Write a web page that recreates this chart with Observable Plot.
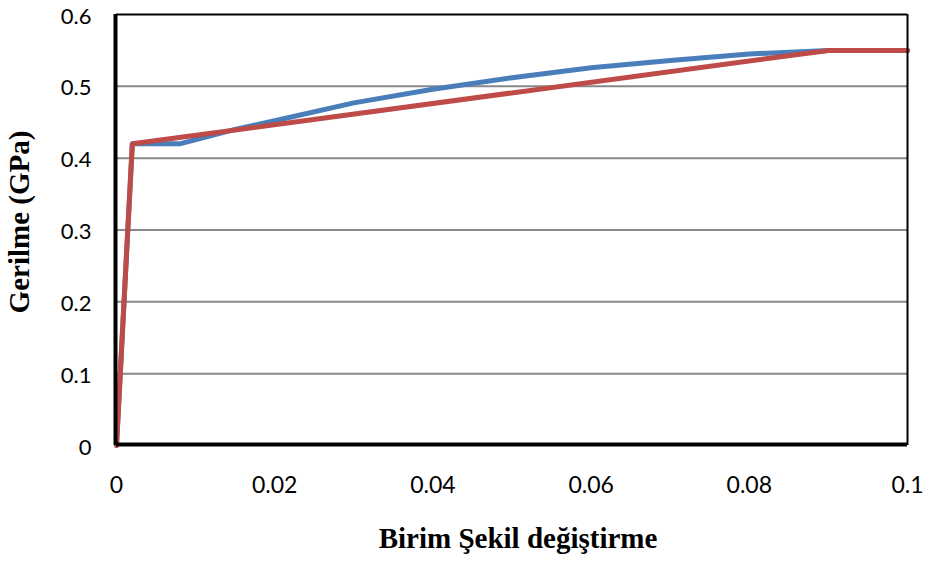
<!DOCTYPE html>
<html>
<head>
<meta charset="utf-8">
<script src="https://cdn.jsdelivr.net/npm/d3@7"></script>
<script src="https://cdn.jsdelivr.net/npm/@observablehq/plot@0.6"></script>
<style>
  html, body { margin: 0; padding: 0; background: #fff; }
  #chart svg { display: block; }
</style>
</head>
<body>
<div id="chart"></div>
<script>
const blueX = [0, 0.002, 0.008, 0.015, 0.02, 0.03, 0.04, 0.05, 0.055, 0.06, 0.07, 0.08, 0.09, 0.1];
const blueY = [0, 0.42, 0.42, 0.44, 0.452, 0.477, 0.496, 0.512, 0.519, 0.526, 0.536, 0.545, 0.55, 0.55];
const redX = [0, 0.002, 0.09, 0.1];
const redY = [0, 0.42, 0.55, 0.55];
const xTicks = [0, 0.02, 0.04, 0.06, 0.08, 0.1];
const yTicks = [0, 0.1, 0.2, 0.3, 0.4, 0.5, 0.6];
const gridY = [0.1, 0.2, 0.3, 0.4, 0.5];
const xLabel = "Birim Şekil değiştirme";
const yLabel = "Gerilme (GPa)";

const blue = blueX.map((x, i) => ({x, y: blueY[i]}));
const red = redX.map((x, i) => ({x, y: redY[i]}));

const chart = Plot.plot({
  width: 926,
  height: 563,
  marginLeft: 116,
  marginRight: 19,
  marginTop: 14,
  marginBottom: 118,
  style: {fontFamily: "Lato, 'Open Sans', sans-serif", fontSize: "23px", color: "#000", background: "#fff"},
  x: {domain: [0, 0.1]},
  y: {domain: [0, 0.6]},
  marks: [
    Plot.ruleY(gridY, {stroke: "#888", strokeWidth: 2}),
    Plot.axisX(xTicks, {tickSize: 0, tickPadding: 31, label: null, tickFormat: d => String(d), fontSize: 23}),
    Plot.axisY(yTicks, {tickSize: 0, tickPadding: 25, label: null, tickFormat: d => String(d), fontSize: 22, dy: 2}),
    Plot.line(blue, {x: "x", y: "y", stroke: "#4a7ebb", strokeWidth: 5, strokeLinejoin: "round"}),
    Plot.line(red, {x: "x", y: "y", stroke: "#be4b48", strokeWidth: 5, strokeLinejoin: "miter"}),
    Plot.ruleY([0.6], {stroke: "#000", strokeWidth: 2}),
    Plot.ruleX([0.1], {stroke: "#000", strokeWidth: 2}),
    Plot.ruleX([0], {stroke: "#000", strokeWidth: 4, dx: -1}),
    Plot.ruleY([0], {stroke: "#000", strokeWidth: 4, dy: -1}),
    Plot.text([xLabel], {frameAnchor: "bottom", text: d => d, dx: 6, dy: 102, fontFamily: "'Liberation Serif', serif", fontWeight: "bold", fontSize: 29, fill: "#000"}),
    Plot.text([yLabel], {frameAnchor: "left", text: d => d, textAnchor: "middle", dx: -97, dy: -8, rotate: -90, fontFamily: "'Liberation Serif', serif", fontWeight: "bold", fontSize: 29, fill: "#000"})
  ]
});
document.getElementById("chart").appendChild(chart);
</script>
</body>
</html>
